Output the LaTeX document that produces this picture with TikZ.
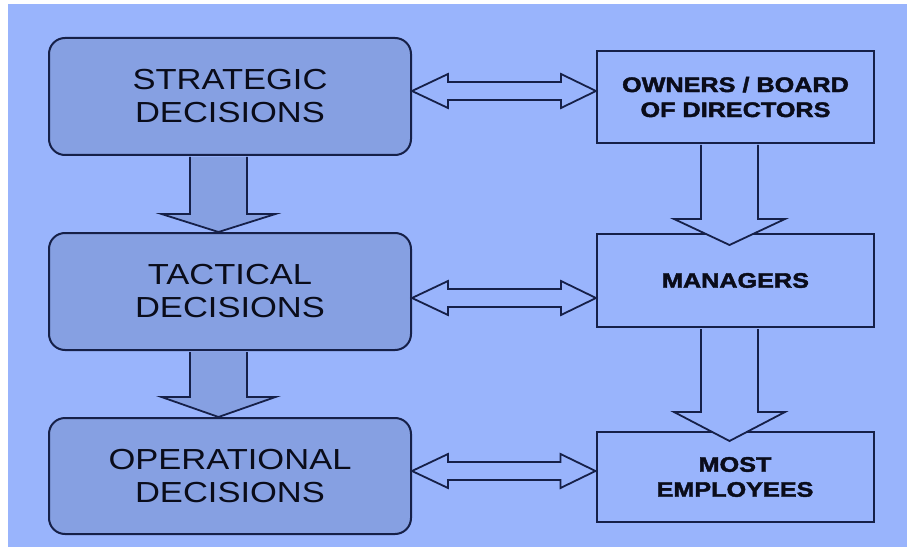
\documentclass[tikz,border=0pt]{standalone}
\usepackage{fontspec}
\setmainfont{Liberation Sans}
\newfontfamily\decfont[FakeStretch=1.19]{Liberation Sans}
\newfontfamily\rolefont[FakeStretch=1.2,FakeBold=2]{Liberation Sans Bold}
\usetikzlibrary{calc}
\definecolor{bgblue}{RGB}{153,180,252}
\definecolor{boxblue}{RGB}{134,160,226}
\definecolor{edge}{RGB}{22,32,72}
\definecolor{ink}{RGB}{10,12,26}
% vertical block arrow: #1 style, #2 start, #3 tip, #4 head height, #5 head half width
\newcommand\vdarrow[5]{%
  \draw[#1] let \p1=(#2), \p2=(#3) in
    (\x1-28.5pt,\y1) -- (\x1-28.5pt,\y2+#4) -- (\x1-#5,\y2+#4) -- (\p2)
    -- (\x1+#5,\y2+#4) -- (\x1+28.5pt,\y2+#4) -- (\x1+28.5pt,\y1);}
% horizontal two-way block arrow between #1 and #2
\newcommand\hdarrow[2]{%
  \draw[twoway] let \p1=(#1), \p2=(#2) in
    (\p1) -- (\x1+36pt,\y1+17pt) -- (\x1+36pt,\y1+9pt) -- (\x2-35pt,\y2+9pt)
    -- (\x2-35pt,\y2+17pt) -- (\p2) -- (\x2-35pt,\y2-17pt) -- (\x2-35pt,\y2-9pt)
    -- (\x1+36pt,\y1-9pt) -- (\x1+36pt,\y1-17pt) -- cycle;}
\begin{document}
\begin{tikzpicture}[x=1pt,y=-1pt,
  decbox/.style={draw=edge, line width=2pt, fill=boxblue, rounded corners=16pt,
    minimum width=362pt, minimum height=117pt, inner sep=0pt, align=center,
    text=ink, font=\decfont\fontsize{29}{33}\selectfont},
  rolebox/.style={draw=edge, line width=2pt, fill=bgblue,
    minimum width=277pt, minimum height=92pt, inner sep=0pt, align=center,
    text=ink, font=\rolefont\fontsize{21}{25}\selectfont},
  downdec/.style={draw=edge, line width=1.8pt, fill=boxblue},
  downrole/.style={draw=edge, line width=1.8pt, fill=bgblue},
  twoway/.style={draw=edge, line width=1.8pt, fill=bgblue}]
\useasboundingbox (0,0) rectangle (907,548);
\fill[white] (0,0) rectangle (907,548);
\fill[bgblue] (8,4) rectangle (907,547);

\node[decbox] (strat) at (230,96.5) {STRATEGIC\\DECISIONS};
\node[decbox] (tact) at (230,291.5) {TACTICAL\\DECISIONS};
\node[decbox, minimum height=116pt] (oper) at (230,476) {OPERATIONAL\\DECISIONS};
\node[rolebox] (owners) at (735.5,97) {OWNERS / BOARD\\OF DIRECTORS};
\node[rolebox, minimum height=93pt] (mgr) at (735.5,280.5) {MANAGERS};
\node[rolebox, minimum height=90pt] (emp) at (735,477) {MOST\\EMPLOYEES};

% left down arrows
\coordinate (d1a) at ($(strat.south)+(-11.5,1)$);
\coordinate (d1b) at ($(tact.north)+(-11.5,0)$);
\coordinate (d2a) at ($(tact.south)+(-11.5,1)$);
\coordinate (d2b) at ($(oper.north)+(-11.5,0)$);
\vdarrow{downdec}{d1a}{d1b}{18pt}{57pt}
\vdarrow{downdec}{d2a}{d2b}{20pt}{57pt}

% right down arrows
\coordinate (r1a) at ($(owners.south)+(-6,1)$);
\coordinate (r1b) at ($(r1a |- mgr.north)+(0,12)$);
\coordinate (r2a) at ($(mgr.south)+(-6,1)$);
\coordinate (r2b) at ($(r2a |- emp.north)+(0,10)$);
\vdarrow{downrole}{r1a}{r1b}{26pt}{55.5pt}
\vdarrow{downrole}{r2a}{r2b}{29pt}{55.5pt}

% two-way arrows
\coordinate (h1a) at ($(strat.east)+(0,-5.5)$);
\coordinate (h1b) at (owners.west |- h1a);
\coordinate (h2a) at ($(tact.east)+(0,6.5)$);
\coordinate (h2b) at (mgr.west |- h2a);
\coordinate (h3a) at ($(oper.east)+(0,-5)$);
\coordinate (h3b) at (emp.west |- h3a);
\hdarrow{h1a}{h1b}
\hdarrow{h2a}{h2b}
\hdarrow{h3a}{h3b}
\end{tikzpicture}
\end{document}
